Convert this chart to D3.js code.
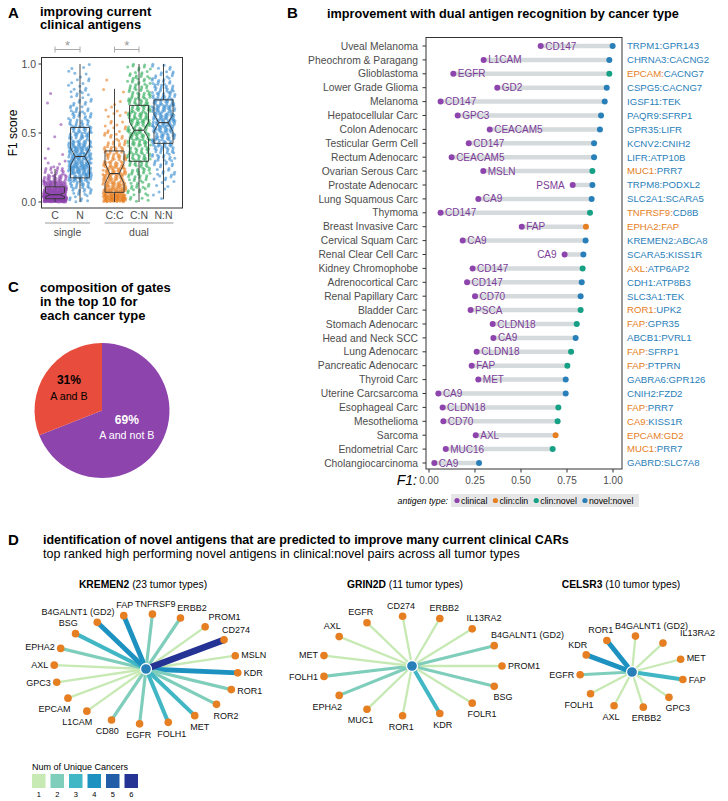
<!DOCTYPE html>
<html><head><meta charset="utf-8">
<script src="https://cdn.jsdelivr.net/npm/d3@7"></script>
<style>
body{margin:0;background:#fff;}
svg{font-family:"Liberation Sans",Arial,Helvetica,sans-serif;}
</style></head><body>
<svg id="fig" width="728" height="801"></svg>
<script>
// ================= DATA =================
// Panel A: F1 score distributions (point counts per 0.05 bin, 0 -> 1)
const groupsA = ["C","N","C:C","C:N","N:N"];
const facetA = ["single","single","dual","dual","dual"];
const binWidthA = 0.05;
const countsC  = [170,95,55,28,14,4,2,1,0,1,0,1,0,0,1,1,0,0,0,0];
const countsN  = [8,12,18,30,38,40,38,34,28,22,20,16,14,10,8,7,6,5,4,3];
const countsCC = [70,45,35,30,28,24,20,16,12,8,6,5,4,3,2,1,1,1,0,0];
const countsCN = [6,8,10,12,14,16,18,18,20,22,22,22,22,20,18,16,14,12,10,8];
const countsNN = [1,3,4,6,8,10,13,16,20,24,28,30,30,28,24,20,16,12,9,6];
const boxQ1   = [0.024,0.175,0.07,0.295,0.425];
const boxMed  = [0.053,0.33,0.206,0.52,0.575];
const boxQ3   = [0.11,0.54,0.37,0.70,0.74];
const whiskLo = [0,0,0,0,0.02];
const whiskHi = [0.24,1.0,0.82,1.0,1.0];
const notchLo = [0.038,0.265,0.135,0.46,0.51];
const notchHi = [0.068,0.39,0.28,0.58,0.635];
const sigPairs = [["C","N"],["C:C","C:N"]];
const yTicksA = [0,0.5,1];

// Panel B
const cancerTypes = ["Uveal Melanoma","Pheochrom & Paragang","Glioblastoma","Lower Grade Glioma","Melanoma","Hepatocellular Carc","Colon Adenocarc","Testicular Germ Cell","Rectum Adenocarc","Ovarian Serous Carc","Prostate Adenocarc","Lung Squamous Carc","Thymoma","Breast Invasive Carc","Cervical Squam Carc","Renal Clear Cell Carc","Kidney Chromophobe","Adrenocortical Carc","Renal Papillary Carc","Bladder Carc","Stomach Adenocarc","Head and Neck SCC","Lung Adenocarc","Pancreatic Adenocarc","Thyroid Carc","Uterine Carcsarcoma","Esophageal Carc","Mesothelioma","Sarcoma","Endometrial Carc","Cholangiocarcinoma"];
const clinicalAntigen = ["CD147","L1CAM","EGFR","GD2","CD147","GPC3","CEACAM5","CD147","CEACAM5","MSLN","PSMA","CA9","CD147","FAP","CA9","CA9","CD147","CD147","CD70","PSCA","CLDN18","CA9","CLDN18","FAP","MET","CA9","CLDN18","CD70","AXL","MUC16","CA9"];
const clinicalF1 = [0.607,0.297,0.132,0.371,0.063,0.156,0.33,0.216,0.123,0.295,0.781,0.268,0.063,0.504,0.183,0.737,0.237,0.207,0.25,0.226,0.346,0.35,0.259,0.232,0.268,0.051,0.074,0.078,0.254,0.091,0.029];
const dualF1 = [0.998,0.98,0.98,0.966,0.955,0.935,0.929,0.897,0.897,0.888,0.888,0.884,0.875,0.853,0.851,0.839,0.835,0.83,0.824,0.824,0.803,0.797,0.772,0.752,0.743,0.743,0.703,0.699,0.688,0.672,0.272];
const dualType = ["novel:novel","novel:novel","clin:novel","novel:novel","novel:novel","novel:novel","novel:novel","novel:novel","novel:novel","clin:novel","novel:novel","novel:novel","clin:novel","clin:clin","novel:novel","novel:novel","clin:novel","novel:novel","novel:novel","clin:novel","clin:novel","novel:novel","clin:novel","clin:novel","novel:novel","novel:novel","clin:novel","clin:novel","clin:clin","clin:novel","novel:novel"];
const dualPair = ["TRPM1:GPR143","CHRNA3:CACNG2","EPCAM:CACNG7","CSPG5:CACNG7","IGSF11:TEK","PAQR9:SFRP1","GPR35:LIFR","KCNV2:CNIH2","LIFR:ATP10B","MUC1:PRR7","TRPM8:PODXL2","SLC2A1:SCARA5","TNFRSF9:CD8B","EPHA2:FAP","KREMEN2:ABCA8","SCARA5:KISS1R","AXL:ATP6AP2","CDH1:ATP8B3","SLC3A1:TEK","ROR1:UPK2","FAP:GPR35","ABCB1:PVRL1","FAP:SFRP1","FAP:PTPRN","GABRA6:GPR126","CNIH2:FZD2","FAP:PRR7","CA9:KISS1R","EPCAM:GD2","MUC1:PRR7","GABRD:SLC7A8"];
const xTicksB = [0,0.25,0.5,0.75,1];
const antigenTypes = ["clinical","clin:clin","clin:novel","novel:novel"];

// Panel C
const gateLabels = ["A and not B","A and B"];
const gatePercent = [69,31];

// Panel D
const hubs = ["KREMEN2","GRIN2D","CELSR3"];
const hubTumorTypes = [23,11,10];
const kremen2Antigens = ["MSLN","KDR","ROR1","ROR2","MET","FOLH1","EGFR","CD80","L1CAM","EPCAM","GPC3","AXL","EPHA2","BSG","B4GALNT1 (GD2)","FAP","TNFRSF9","ERBB2","PROM1","CD274"];
const kremen2Counts   = [1,4,2,2,3,3,2,2,1,1,1,1,2,3,4,4,2,2,1,6];
const grin2dAntigens = ["PROM1","BSG","FOLR1","KDR","ROR1","MUC1","EPHA2","FOLH1","MET","AXL","EGFR","CD274","ERBB2","IL13RA2","B4GALNT1 (GD2)"];
const grin2dCounts   = [1,2,1,3,1,1,2,2,1,1,1,1,1,1,2];
const celsr3Antigens = ["FAP","GPC3","ERBB2","AXL","FOLH1","EGFR","KDR","ROR1","B4GALNT1 (GD2)","IL13RA2","MET"];
const celsr3Counts   = [3,1,1,1,1,2,4,4,1,1,1];
const cancerCountLevels = [1,2,3,4,5,6];

// ================= STYLE =================
const PURPLE="#8e44ad", ORANGE="#e67e22", GREEN="#16a085", BLUE="#2980b9", RED="#e74c3c";
const AXC="#4d4d4d";
const svg = d3.select("#fig");
const frac = x => x - Math.floor(x);

function panelLetter(t,x,y){ svg.append("text").attr("x",x).attr("y",y).attr("dy",".35em").attr("font-size",15).attr("font-weight","bold").text(t); }
function title(lines,x,y,size,lh){ lines.forEach((l,i)=>svg.append("text").attr("x",x).attr("y",y+i*lh).attr("dy",".35em").attr("font-size",size).attr("font-weight","bold").text(l)); }

// ================= PANEL A =================
panelLetter("A",8,13);
title(["improving current","clinical antigens"],40,11,13,13.5);
const yA = d3.scaleLinear().domain([0,1]).range([202,64]);
const xSingle = d3.scalePoint().domain(groupsA.filter((g,i)=>facetA[i]==="single")).range([55,80]);
const xDual = d3.scalePoint().domain(groupsA.filter((g,i)=>facetA[i]==="dual")).range([114.5,163.5]);
const xA = g => facetA[groupsA.indexOf(g)]==="single" ? xSingle(g) : xDual(g);
const gA = svg.append("g");
gA.append("rect").attr("x",41.5).attr("y",57.5).attr("width",141).attr("height",150.5).attr("fill","none").attr("stroke","#333").attr("stroke-width",1);
yTicksA.forEach(t=>{
  gA.append("line").attr("x1",38.5).attr("x2",41.5).attr("y1",yA(t)).attr("y2",yA(t)).attr("stroke","#333");
  gA.append("text").attr("x",36).attr("y",yA(t)).attr("dy",".35em").attr("text-anchor","end").attr("font-size",10.5).attr("fill",AXC).text(d3.format(".1f")(t));
});
gA.append("text").attr("transform",`translate(13,${yA(0.5)}) rotate(-90)`).attr("text-anchor","middle").attr("dy",".35em").attr("font-size",12).text("F1 score");
const countsA = [countsC,countsN,countsCC,countsCN,countsNN];
const colA = [PURPLE,"#3b8ed0",ORANGE,"#2eae5a","#3b8ed0"];
const a1=0.7548776662466927, a2=0.5698402909980532;
countsA.forEach((counts,gi)=>{
  const cx = xA(groupsA[gi]);
  counts.forEach((n,b)=>{
    for(let i=0;i<n;i++){
      const u=frac(0.5+a1*(i+1)+0.137*b+0.29*gi), v=frac(0.5+a2*(i+1)+0.377*b+0.11*gi);
      gA.append("circle").attr("cx",cx+(u-0.5)*2*11.5).attr("cy",yA((b+v)*binWidthA)).attr("r",1.5)
        .attr("fill",colA[gi]).attr("fill-opacity",0.6);
    }
  });
});
groupsA.forEach((g,i)=>{
  const cx=xA(g), w=9.5;
  gA.append("line").attr("x1",cx).attr("x2",cx).attr("y1",yA(boxQ3[i])).attr("y2",yA(whiskHi[i])).attr("stroke","#333").attr("stroke-width",0.9);
  gA.append("line").attr("x1",cx).attr("x2",cx).attr("y1",yA(boxQ1[i])).attr("y2",yA(whiskLo[i])).attr("stroke","#333").attr("stroke-width",0.9);
  const p = d3.path();
  p.moveTo(cx-w,yA(boxQ1[i])); p.lineTo(cx-w,yA(notchLo[i])); p.lineTo(cx-w/2,yA(boxMed[i])); p.lineTo(cx-w,yA(notchHi[i])); p.lineTo(cx-w,yA(boxQ3[i]));
  p.lineTo(cx+w,yA(boxQ3[i])); p.lineTo(cx+w,yA(notchHi[i])); p.lineTo(cx+w/2,yA(boxMed[i])); p.lineTo(cx+w,yA(notchLo[i])); p.lineTo(cx+w,yA(boxQ1[i])); p.closePath();
  gA.append("path").attr("d",p.toString()).attr("fill","none").attr("stroke","#333").attr("stroke-width",0.9);
  gA.append("line").attr("x1",cx-w/2).attr("x2",cx+w/2).attr("y1",yA(boxMed[i])).attr("y2",yA(boxMed[i])).attr("stroke","#333").attr("stroke-width",1.1);
  gA.append("text").attr("x",cx).attr("y",215).attr("dy",".35em").attr("text-anchor","middle").attr("font-size",10.5).attr("fill",AXC).text(g);
});
sigPairs.forEach(([a,b])=>{
  const x1=xA(a), x2=xA(b);
  gA.append("line").attr("x1",x1).attr("x2",x2).attr("y1",49.5).attr("y2",49.5).attr("stroke","#aaa").attr("stroke-width",1);
  [x1,x2].forEach(x=>gA.append("line").attr("x1",x).attr("x2",x).attr("y1",46.5).attr("y2",52.5).attr("stroke","#aaa"));
  gA.append("text").attr("x",(x1+x2)/2).attr("y",45.5).attr("dy",".35em").attr("text-anchor","middle").attr("font-size",13).attr("fill","#999").text("*");
});
["single","dual"].forEach(f=>{
  const gs = groupsA.filter((g,i)=>facetA[i]===f);
  const x1 = xA(gs[0])-10, x2 = xA(gs[gs.length-1])+10;
  gA.append("line").attr("x1",x1).attr("x2",x2).attr("y1",223).attr("y2",223).attr("stroke","#999");
  gA.append("text").attr("x",(x1+x2)/2).attr("y",232).attr("dy",".35em").attr("text-anchor","middle").attr("font-size",10.5).attr("fill",AXC).text(f);
});

// ================= PANEL B =================
panelLetter("B",287,13);
svg.append("text").attr("x",327).attr("y",14).attr("dy",".35em").attr("font-size",12.7).attr("font-weight","bold").text("improvement with dual antigen recognition by cancer type");
const gB = svg.append("g");
const yB = d3.scalePoint().domain(cancerTypes).range([46,463]);
const xB = d3.scaleLinear().domain([0,1]).range([429,613]);
const typeColor = d3.scaleOrdinal().domain(antigenTypes).range([PURPLE,ORANGE,GREEN,BLUE]);
gB.append("rect").attr("x",426).attr("y",37.5).attr("width",196).attr("height",431.5).attr("fill","none").attr("stroke","#333").attr("stroke-width",1);
cancerTypes.forEach((c,i)=>{
  const y=yB(c);
  gB.append("line").attr("x1",422.5).attr("x2",426).attr("y1",y).attr("y2",y).attr("stroke","#333");
  gB.append("text").attr("x",418).attr("y",y).attr("dy",".35em").attr("text-anchor","end").attr("font-size",10.3).attr("fill",AXC).text(c);
  gB.append("line").attr("x1",xB(clinicalF1[i])).attr("x2",xB(dualF1[i])).attr("y1",y).attr("y2",y).attr("stroke","#d5dadd").attr("stroke-width",4.5);
  const left = clinicalF1[i] > 0.7;
  gB.append("text").attr("x",xB(clinicalF1[i])+(left?-8:4.5)).attr("y",y).attr("dy",".35em").attr("text-anchor",left?"end":"start")
    .attr("font-size",10).attr("fill","#7d3c98").text(clinicalAntigen[i]);
  gB.append("circle").attr("cx",xB(clinicalF1[i])).attr("cy",y).attr("r",3).attr("fill",PURPLE);
  gB.append("circle").attr("cx",xB(dualF1[i])).attr("cy",y).attr("r",3).attr("fill",typeColor(dualType[i]));
  const parts = dualPair[i].split(":");
  const c1 = dualType[i]==="novel:novel" ? BLUE : ORANGE;
  const c2 = dualType[i]==="clin:clin" ? ORANGE : BLUE;
  const t = gB.append("text").attr("x",627).attr("y",y).attr("dy",".35em").attr("font-size",9.6);
  t.append("tspan").attr("fill",c1).text(parts[0]+":");
  t.append("tspan").attr("fill",c2).text(parts[1]);
});
xTicksB.forEach(t=>{
  gB.append("line").attr("x1",xB(t)).attr("x2",xB(t)).attr("y1",469).attr("y2",472.5).attr("stroke","#333");
  gB.append("text").attr("x",xB(t)).attr("y",480).attr("dy",".35em").attr("text-anchor","middle").attr("font-size",10).attr("fill",AXC).text(d3.format(".2f")(t));
});
gB.append("text").attr("x",417).attr("y",480).attr("dy",".35em").attr("text-anchor","end").attr("font-size",14).attr("font-style","italic").text("F1:");
gB.append("text").attr("x",448).attr("y",500.5).attr("dy",".35em").attr("text-anchor","end").attr("font-size",8.8).attr("font-style","italic").text("antigen type:");
gB.append("rect").attr("x",451).attr("y",494).attr("width",188).attr("height",13).attr("fill","#e6e6e6");
let lx = 454;
antigenTypes.forEach(a=>{
  gB.append("circle").attr("cx",lx+3).attr("cy",500.5).attr("r",2.6).attr("fill",typeColor(a));
  const tt = gB.append("text").attr("x",lx+7).attr("y",500.5).attr("dy",".35em").attr("font-size",8.8).text(a);
  lx += 7 + tt.node().getComputedTextLength() + 5;
});

// ================= PANEL C =================
panelLetter("C",8,287);
title(["composition of gates","in the top 10 for","each cancer type"],40,287,13,14.3);
const gC = svg.append("g").attr("transform","translate(102,410.5)");
const pieData = d3.pie().sort(null).value(d=>d)(gatePercent);
const arcC = d3.arc().innerRadius(0).outerRadius(67.5);
const labelRadius = [30,40];
const pieColor = [PURPLE,RED];
pieData.forEach((d,i)=>{
  gC.append("path").attr("d",arcC(d)).attr("fill",pieColor[i]);
});
pieData.forEach((d,i)=>{
  const [cx,cy] = d3.arc().innerRadius(labelRadius[i]).outerRadius(labelRadius[i]).centroid(d);
  const fill = i===0 ? "#fff" : "#000";
  gC.append("text").attr("x",cx).attr("y",cy-8).attr("dy",".35em").attr("text-anchor","middle").attr("font-size",12).attr("font-weight","bold").attr("fill",fill).text(gatePercent[i]+"%");
  gC.append("text").attr("x",cx).attr("y",cy+8).attr("dy",".35em").attr("text-anchor","middle").attr("font-size",10.7).attr("fill",fill).text(gateLabels[i]);
});

// ================= PANEL D =================
panelLetter("D",8,540);
svg.append("text").attr("x",43).attr("y",540).attr("dy",".35em").attr("font-size",12.5).attr("font-weight","bold").text("identification of novel antigens that are predicted to improve many current clinical CARs");
svg.append("text").attr("x",43).attr("y",553.5).attr("dy",".35em").attr("font-size",12.5).text("top ranked high performing novel antigens in clinical:novel pairs across all tumor types");
const edgeColor = d3.scaleOrdinal().domain(cancerCountLevels).range(d3.schemeYlGnBu[9].slice(2,8));
const edgeWidth = d3.scaleLinear().domain([1,6]).range([2.3,6.6]);
const netAntigens = [kremen2Antigens,grin2dAntigens,celsr3Antigens];
const netCounts = [kremen2Counts,grin2dCounts,celsr3Counts];
const netLayout = [{cx:146,cy:669,rx:92,ry:55,start:-14,tx:143},{cx:412,cy:666,rx:90,ry:50,start:0,tx:405},{cx:632,cy:672,rx:52,ry:36,start:12,tx:621}];
const placed = [];
hubs.forEach((hub,k)=>{
  const L = netLayout[k], names = netAntigens[k], counts = netCounts[k];
  const g = svg.append("g");
  const tt = g.append("text").attr("x",L.tx).attr("y",584).attr("dy",".35em").attr("text-anchor","middle").attr("font-size",10.3);
  tt.append("tspan").attr("font-weight","bold").text(hub);
  tt.append("tspan").text(` (${hubTumorTypes[k]} tumor types)`);
  const ang = d3.scaleLinear().domain([0,names.length]).range([L.start,L.start+360]);
  const nodes = names.map((n,i)=>{
    const t = ang(i)*Math.PI/180;
    return {name:n, count:counts[i], c:Math.cos(t), s:Math.sin(t), x:L.cx+L.rx*Math.cos(t), y:L.cy+L.ry*Math.sin(t)};
  });
  nodes.forEach(d=>g.append("line").attr("x1",L.cx).attr("y1",L.cy).attr("x2",d.x).attr("y2",d.y).attr("stroke",edgeColor(d.count)).attr("stroke-width",edgeWidth(d.count)));
  nodes.forEach(d=>g.append("circle").attr("cx",d.x).attr("cy",d.y).attr("r",3.8).attr("fill",ORANGE));
  g.append("circle").attr("cx",L.cx).attr("cy",L.cy).attr("r",5.5).attr("fill",BLUE).attr("stroke","#fff").attr("stroke-width",1.3);
  nodes.forEach(d=>{
    const t = g.append("text").attr("dy",".35em").attr("text-anchor","middle").attr("font-size",9).attr("fill","#111").text(d.name);
    const w = t.node().getComputedTextLength();
    let x, y, side=false;
    if(d.c>0.92){ x=d.x+6+w/2; y=d.y+d.s*4; side=true; }
    else if(d.c<-0.92){ x=d.x-6-w/2; y=d.y+d.s*4; side=true; }
    else { x=d.x+d.c*w/2; y=d.y+(d.s>0?11:-10.5); }
    const dir = d.s>0 ? 1 : -1;
    for(let it=0; it<16; it++){
      const hit = placed.find(p=>Math.abs(p.x-x) < (p.w+w)/2+1 && Math.abs(p.y-y) < 10);
      if(!hit) break;
      if(side) y += dir*1.5; else x += (x>=hit.x?1:-1)*1.5;
    }
    placed.push({x,y,w});
    t.attr("x",x).attr("y",y);
  });
});
// legend
const gL = svg.append("g");
gL.append("text").attr("x",32).attr("y",767).attr("dy",".35em").attr("font-size",9).text("Num of Unique Cancers");
cancerCountLevels.forEach((v,i)=>{
  gL.append("rect").attr("x",32+i*18.5).attr("y",774).attr("width",13.5).attr("height",14).attr("fill",edgeColor(v));
  gL.append("text").attr("x",32+i*18.5+6.75).attr("y",794.5).attr("dy",".35em").attr("text-anchor","middle").attr("font-size",7.5).text(v);
});
</script>
</body></html>
